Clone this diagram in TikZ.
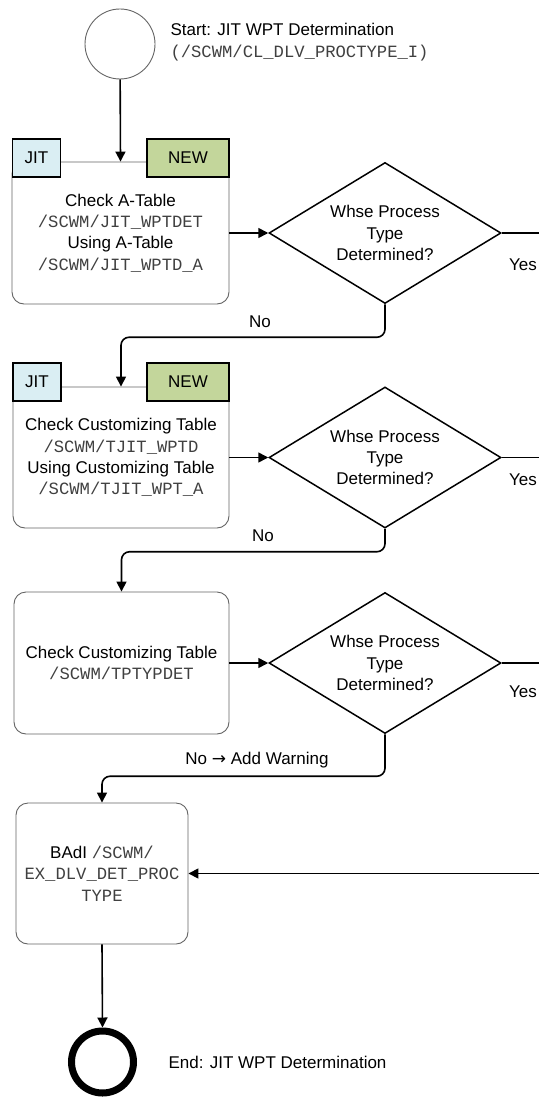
\documentclass[tikz,border=0pt]{standalone}
\usepackage{fontspec}
\setmainfont{Liberation Sans}
\setmonofont{Liberation Mono}
\newfontfamily\arrowfont{DejaVu Sans}
\usetikzlibrary{shapes.geometric,arrows.meta}
\definecolor{jitblue}{RGB}{218,238,243}
\definecolor{newgreen}{RGB}{195,214,155}
\definecolor{codegray}{RGB}{64,64,64}
\definecolor{boxgray}{RGB}{100,100,100}
\newcommand{\sap}[1]{{\fontsize{17.2}{21.3}\ttfamily\color{codegray}#1}}

\begin{document}
\begin{tikzpicture}[x=1pt,y=-1pt,
  font=\fontsize{17}{21.3}\selectfont,
  task/.style={draw=boxgray, line width=0.9pt, rounded corners=12pt, align=center, minimum height=142pt, inner sep=0pt},
  tag/.style={draw, line width=1.5pt, minimum height=38pt, inner sep=0pt},
  decide/.style={diamond, draw, line width=1.5pt, aspect=1.63, minimum width=232pt, minimum height=141pt, inner sep=0pt, align=center},
  flow/.style={line width=1.6pt, -{Triangle[length=10pt,width=10pt]}},
  link/.style={line width=1.6pt}]
\useasboundingbox (0,0) rectangle (539,1099);

% start
\node[circle, draw=boxgray, line width=0.9pt, minimum size=70pt, inner sep=0pt] (start) at (120,44) {};
\node[anchor=west, align=left] (startlbl) at (167,42) {Start: JIT WPT Determination\\\sap{(/SCWM/CL\_DLV\_PROCTYPE\_I)}};

% step 1
\node[task, minimum width=217pt] (chkA) at (120.5,233) {Check A-Table\\\sap{/SCWM/JIT\_WPTDET}\\Using A-Table\\\sap{/SCWM/JIT\_WPTD\_A}};
\node[tag, fill=jitblue, minimum width=48pt] (jitA) at (36.5,158) {JIT};
\node[tag, fill=newgreen, minimum width=82pt] (newA) at (188,158) {NEW};
\node[decide] (decA) at (385,233) {Whse Process\\Type\\Determined?};
\coordinate (yesA) at (539,233);
\node (yesAlbl) at (523,265) {Yes};
\node (noAlbl) at (260,322) {No};

% step 2
\node[task, minimum width=216pt, minimum height=141pt] (chkC) at (121,457.5) {Check Customizing Table\\\sap{/SCWM/TJIT\_WPTD}\\Using Customizing Table\\\sap{/SCWM/TJIT\_WPT\_A}};
\node[tag, fill=jitblue, minimum width=48pt] (jitC) at (37,382) {JIT};
\node[tag, fill=newgreen, minimum width=82pt] (newC) at (188,382) {NEW};
\node[decide] (decC) at (385,457.5) {Whse Process\\Type\\Determined?};
\coordinate (yesC) at (539,457.5);
\node (yesClbl) at (523,480) {Yes};
\node (noClbl) at (263,536) {No};

% step 3
\node[task, minimum width=215pt] (chkT) at (121.5,663) {Check Customizing Table\\\sap{/SCWM/TPTYPDET}};
\node[decide] (decT) at (385,663) {Whse Process\\Type\\Determined?};
\coordinate (yesT) at (539,663);
\node (yesTlbl) at (523,692) {Yes};
\node (noTlbl) at (257,760) {No {\arrowfont →} Add Warning};

% badi and end
\node[task, minimum width=172pt, minimum height=141pt] (badi) at (102,873.5) {BAdI \sap{/SCWM/}\\\sap{EX\_DLV\_DET\_PROC}\\\sap{TYPE}};
\coordinate (badiin) at (539,873.5);
\node[circle, draw, line width=7pt, minimum size=62pt, inner sep=0pt, outer sep=3.5pt] (end) at (102.5,1062) {};
\node[anchor=west] (endlbl) at (165,1062) {End: JIT WPT Determination};

% connectors
\draw[flow] (start) -- (chkA.north);
\draw[flow] (chkA.east) -- (decA.west);
\draw[link] (decA.east) -- (yesA);
\draw[flow, rounded corners=8pt] (decA.south) -- ++(0,33) -| (chkC.north);
\draw[flow] (chkC.east) -- (decC.west);
\draw[link] (decC.east) -- (yesC);
\draw[flow, rounded corners=8pt] (decC.south) -- ++(0,23) -| (chkT.north);
\draw[flow] (chkT.east) -- (decT.west);
\draw[link] (decT.east) -- (yesT);
\draw[flow, rounded corners=8pt] (decT.south) -- ++(0,42) -| (badi.north);
\draw[flow] (badiin) -- (badi.east);
\draw[flow] (badi.south) -- (end.north);
\end{tikzpicture}
\end{document}
